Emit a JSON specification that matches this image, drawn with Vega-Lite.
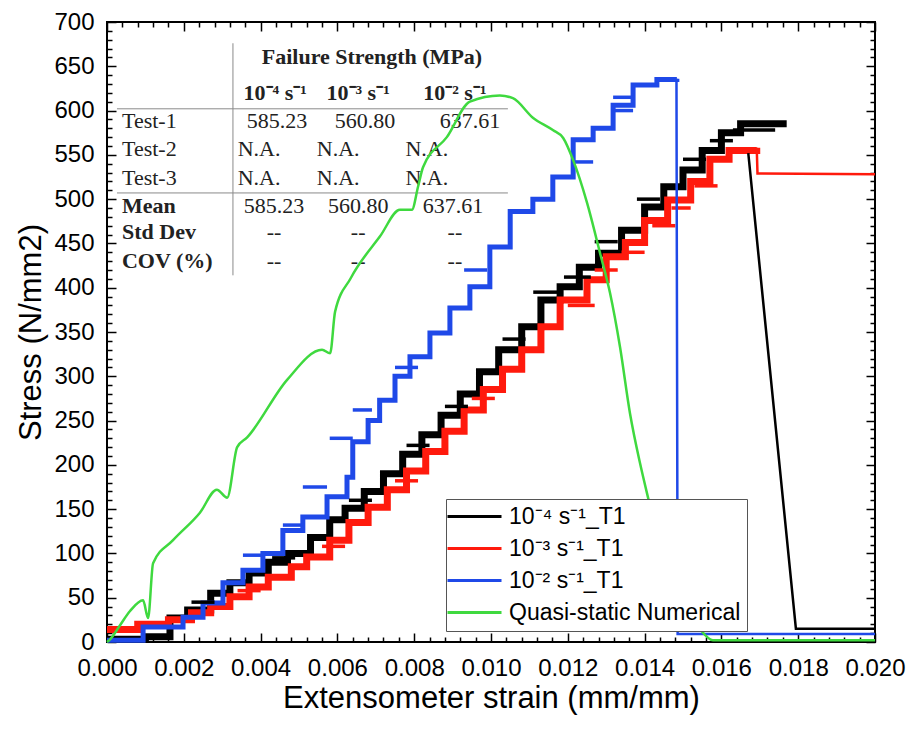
{
  "$schema": "https://vega.github.io/schema/vega-lite/v6.json",
  "width": 768,
  "height": 620,
  "autosize": {"type": "none"},
  "padding": {"left": 107, "top": 22, "right": 37, "bottom": 88},
  "background": "white",
  "datasets": {
    "steps": [
      {"series": "10⁻⁴ s⁻¹_T1", "strain": 0, "stress": 3},
      {"series": "10⁻⁴ s⁻¹_T1", "strain": 0.001, "stress": 6},
      {"series": "10⁻⁴ s⁻¹_T1", "strain": 0.00164, "stress": 27},
      {"series": "10⁻⁴ s⁻¹_T1", "strain": 0.0021, "stress": 36},
      {"series": "10⁻⁴ s⁻¹_T1", "strain": 0.0027, "stress": 55},
      {"series": "10⁻⁴ s⁻¹_T1", "strain": 0.0032, "stress": 67},
      {"series": "10⁻⁴ s⁻¹_T1", "strain": 0.0037, "stress": 78},
      {"series": "10⁻⁴ s⁻¹_T1", "strain": 0.0042, "stress": 90},
      {"series": "10⁻⁴ s⁻¹_T1", "strain": 0.0047, "stress": 100},
      {"series": "10⁻⁴ s⁻¹_T1", "strain": 0.0053, "stress": 118},
      {"series": "10⁻⁴ s⁻¹_T1", "strain": 0.0058, "stress": 138},
      {"series": "10⁻⁴ s⁻¹_T1", "strain": 0.0062, "stress": 151},
      {"series": "10⁻⁴ s⁻¹_T1", "strain": 0.0067, "stress": 170},
      {"series": "10⁻⁴ s⁻¹_T1", "strain": 0.0072, "stress": 190},
      {"series": "10⁻⁴ s⁻¹_T1", "strain": 0.0077, "stress": 212},
      {"series": "10⁻⁴ s⁻¹_T1", "strain": 0.0082, "stress": 234},
      {"series": "10⁻⁴ s⁻¹_T1", "strain": 0.0087, "stress": 256},
      {"series": "10⁻⁴ s⁻¹_T1", "strain": 0.0092, "stress": 280},
      {"series": "10⁻⁴ s⁻¹_T1", "strain": 0.0097, "stress": 305},
      {"series": "10⁻⁴ s⁻¹_T1", "strain": 0.0102, "stress": 330},
      {"series": "10⁻⁴ s⁻¹_T1", "strain": 0.0108, "stress": 356},
      {"series": "10⁻⁴ s⁻¹_T1", "strain": 0.0113, "stress": 386},
      {"series": "10⁻⁴ s⁻¹_T1", "strain": 0.0118, "stress": 401},
      {"series": "10⁻⁴ s⁻¹_T1", "strain": 0.0123, "stress": 423},
      {"series": "10⁻⁴ s⁻¹_T1", "strain": 0.0128, "stress": 439},
      {"series": "10⁻⁴ s⁻¹_T1", "strain": 0.0134, "stress": 465},
      {"series": "10⁻⁴ s⁻¹_T1", "strain": 0.014, "stress": 491},
      {"series": "10⁻⁴ s⁻¹_T1", "strain": 0.0145, "stress": 514},
      {"series": "10⁻⁴ s⁻¹_T1", "strain": 0.015, "stress": 533},
      {"series": "10⁻⁴ s⁻¹_T1", "strain": 0.0155, "stress": 555},
      {"series": "10⁻⁴ s⁻¹_T1", "strain": 0.016, "stress": 575},
      {"series": "10⁻⁴ s⁻¹_T1", "strain": 0.0165, "stress": 585},
      {"series": "10⁻⁴ s⁻¹_T1", "strain": 0.0177, "stress": 585},
      {"series": "10⁻³ s⁻¹_T1", "strain": 0, "stress": 14},
      {"series": "10⁻³ s⁻¹_T1", "strain": 0.0008, "stress": 20},
      {"series": "10⁻³ s⁻¹_T1", "strain": 0.0016, "stress": 25},
      {"series": "10⁻³ s⁻¹_T1", "strain": 0.0022, "stress": 33},
      {"series": "10⁻³ s⁻¹_T1", "strain": 0.0027, "stress": 40},
      {"series": "10⁻³ s⁻¹_T1", "strain": 0.0032, "stress": 51},
      {"series": "10⁻³ s⁻¹_T1", "strain": 0.0037, "stress": 62},
      {"series": "10⁻³ s⁻¹_T1", "strain": 0.0042, "stress": 73},
      {"series": "10⁻³ s⁻¹_T1", "strain": 0.0048, "stress": 85},
      {"series": "10⁻³ s⁻¹_T1", "strain": 0.0052, "stress": 96},
      {"series": "10⁻³ s⁻¹_T1", "strain": 0.0058, "stress": 115},
      {"series": "10⁻³ s⁻¹_T1", "strain": 0.0063, "stress": 135},
      {"series": "10⁻³ s⁻¹_T1", "strain": 0.0068, "stress": 152},
      {"series": "10⁻³ s⁻¹_T1", "strain": 0.0073, "stress": 172},
      {"series": "10⁻³ s⁻¹_T1", "strain": 0.0078, "stress": 193},
      {"series": "10⁻³ s⁻¹_T1", "strain": 0.0083, "stress": 215},
      {"series": "10⁻³ s⁻¹_T1", "strain": 0.0088, "stress": 238},
      {"series": "10⁻³ s⁻¹_T1", "strain": 0.0093, "stress": 262},
      {"series": "10⁻³ s⁻¹_T1", "strain": 0.0098, "stress": 285},
      {"series": "10⁻³ s⁻¹_T1", "strain": 0.0103, "stress": 308},
      {"series": "10⁻³ s⁻¹_T1", "strain": 0.0108, "stress": 330},
      {"series": "10⁻³ s⁻¹_T1", "strain": 0.0113, "stress": 356},
      {"series": "10⁻³ s⁻¹_T1", "strain": 0.0118, "stress": 386},
      {"series": "10⁻³ s⁻¹_T1", "strain": 0.0125, "stress": 409},
      {"series": "10⁻³ s⁻¹_T1", "strain": 0.013, "stress": 435},
      {"series": "10⁻³ s⁻¹_T1", "strain": 0.0135, "stress": 451},
      {"series": "10⁻³ s⁻¹_T1", "strain": 0.014, "stress": 476},
      {"series": "10⁻³ s⁻¹_T1", "strain": 0.0146, "stress": 499},
      {"series": "10⁻³ s⁻¹_T1", "strain": 0.0152, "stress": 520},
      {"series": "10⁻³ s⁻¹_T1", "strain": 0.0157, "stress": 545},
      {"series": "10⁻³ s⁻¹_T1", "strain": 0.0162, "stress": 555},
      {"series": "10⁻³ s⁻¹_T1", "strain": 0.01692, "stress": 558}
    ],
    "blueSteps": [
      {"series": "10⁻² s⁻¹_T1", "strain": 0, "stress": 2},
      {"series": "10⁻² s⁻¹_T1", "strain": 0.00094, "stress": 17},
      {"series": "10⁻² s⁻¹_T1", "strain": 0.00198, "stress": 28},
      {"series": "10⁻² s⁻¹_T1", "strain": 0.0025, "stress": 44},
      {"series": "10⁻² s⁻¹_T1", "strain": 0.00302, "stress": 67},
      {"series": "10⁻² s⁻¹_T1", "strain": 0.00354, "stress": 81},
      {"series": "10⁻² s⁻¹_T1", "strain": 0.00406, "stress": 100},
      {"series": "10⁻² s⁻¹_T1", "strain": 0.00458, "stress": 126},
      {"series": "10⁻² s⁻¹_T1", "strain": 0.0051, "stress": 141},
      {"series": "10⁻² s⁻¹_T1", "strain": 0.00573, "stress": 164},
      {"series": "10⁻² s⁻¹_T1", "strain": 0.00625, "stress": 186},
      {"series": "10⁻² s⁻¹_T1", "strain": 0.0064, "stress": 226},
      {"series": "10⁻² s⁻¹_T1", "strain": 0.0068, "stress": 250},
      {"series": "10⁻² s⁻¹_T1", "strain": 0.0071, "stress": 273},
      {"series": "10⁻² s⁻¹_T1", "strain": 0.0075, "stress": 300},
      {"series": "10⁻² s⁻¹_T1", "strain": 0.00789, "stress": 322},
      {"series": "10⁻² s⁻¹_T1", "strain": 0.00841, "stress": 349},
      {"series": "10⁻² s⁻¹_T1", "strain": 0.00893, "stress": 377},
      {"series": "10⁻² s⁻¹_T1", "strain": 0.00945, "stress": 401},
      {"series": "10⁻² s⁻¹_T1", "strain": 0.00997, "stress": 446},
      {"series": "10⁻² s⁻¹_T1", "strain": 0.0105, "stress": 486},
      {"series": "10⁻² s⁻¹_T1", "strain": 0.01109, "stress": 500},
      {"series": "10⁻² s⁻¹_T1", "strain": 0.01161, "stress": 525},
      {"series": "10⁻² s⁻¹_T1", "strain": 0.01214, "stress": 567},
      {"series": "10⁻² s⁻¹_T1", "strain": 0.01266, "stress": 580},
      {"series": "10⁻² s⁻¹_T1", "strain": 0.01318, "stress": 606},
      {"series": "10⁻² s⁻¹_T1", "strain": 0.0137, "stress": 629},
      {"series": "10⁻² s⁻¹_T1", "strain": 0.01432, "stress": 635},
      {"series": "10⁻² s⁻¹_T1", "strain": 0.01484, "stress": 636}
    ],
    "spikes": [
      {"series": "10⁻⁴ s⁻¹_T1", "strain": 0.0022, "strain2": 0.0028, "stress": 45},
      {"series": "10⁻⁴ s⁻¹_T1", "strain": 0.0043, "strain2": 0.0049, "stress": 95},
      {"series": "10⁻⁴ s⁻¹_T1", "strain": 0.0063, "strain2": 0.0069, "stress": 160},
      {"series": "10⁻⁴ s⁻¹_T1", "strain": 0.0078, "strain2": 0.0084, "stress": 222},
      {"series": "10⁻⁴ s⁻¹_T1", "strain": 0.0088, "strain2": 0.0094, "stress": 266},
      {"series": "10⁻⁴ s⁻¹_T1", "strain": 0.0103, "strain2": 0.0109, "stress": 342},
      {"series": "10⁻⁴ s⁻¹_T1", "strain": 0.0111, "strain2": 0.0118, "stress": 395},
      {"series": "10⁻⁴ s⁻¹_T1", "strain": 0.0119, "strain2": 0.0126, "stress": 412},
      {"series": "10⁻⁴ s⁻¹_T1", "strain": 0.0127, "strain2": 0.0133, "stress": 452},
      {"series": "10⁻⁴ s⁻¹_T1", "strain": 0.0138, "strain2": 0.0144, "stress": 500},
      {"series": "10⁻⁴ s⁻¹_T1", "strain": 0.015, "strain2": 0.0156, "stress": 545},
      {"series": "10⁻⁴ s⁻¹_T1", "strain": 0.0157, "strain2": 0.0163, "stress": 566},
      {"series": "10⁻⁴ s⁻¹_T1", "strain": 0.0163, "strain2": 0.0174, "stress": 578},
      {"series": "10⁻³ s⁻¹_T1", "strain": 0.0034, "strain2": 0.004, "stress": 58},
      {"series": "10⁻³ s⁻¹_T1", "strain": 0.0056, "strain2": 0.0062, "stress": 108},
      {"series": "10⁻³ s⁻¹_T1", "strain": 0.0075, "strain2": 0.0081, "stress": 182},
      {"series": "10⁻³ s⁻¹_T1", "strain": 0.0095, "strain2": 0.0101, "stress": 275},
      {"series": "10⁻³ s⁻¹_T1", "strain": 0.012, "strain2": 0.0127, "stress": 380},
      {"series": "10⁻³ s⁻¹_T1", "strain": 0.0127, "strain2": 0.0133, "stress": 420},
      {"series": "10⁻³ s⁻¹_T1", "strain": 0.0134, "strain2": 0.014, "stress": 440},
      {"series": "10⁻³ s⁻¹_T1", "strain": 0.0142, "strain2": 0.0148, "stress": 470},
      {"series": "10⁻³ s⁻¹_T1", "strain": 0.0147, "strain2": 0.0152, "stress": 490},
      {"series": "10⁻³ s⁻¹_T1", "strain": 0.0153, "strain2": 0.0159, "stress": 515},
      {"series": "10⁻² s⁻¹_T1", "strain": 0.00354, "strain2": 0.00406, "stress": 98},
      {"series": "10⁻² s⁻¹_T1", "strain": 0.00458, "strain2": 0.0051, "stress": 132},
      {"series": "10⁻² s⁻¹_T1", "strain": 0.0051, "strain2": 0.00573, "stress": 175},
      {"series": "10⁻² s⁻¹_T1", "strain": 0.0058, "strain2": 0.0064, "stress": 230},
      {"series": "10⁻² s⁻¹_T1", "strain": 0.0064, "strain2": 0.0069, "stress": 262},
      {"series": "10⁻² s⁻¹_T1", "strain": 0.0075, "strain2": 0.0081, "stress": 310},
      {"series": "10⁻² s⁻¹_T1", "strain": 0.0093, "strain2": 0.0099, "stress": 420},
      {"series": "10⁻² s⁻¹_T1", "strain": 0.01214, "strain2": 0.01266, "stress": 542},
      {"series": "10⁻² s⁻¹_T1", "strain": 0.01318, "strain2": 0.0137, "stress": 600},
      {"series": "10⁻² s⁻¹_T1", "strain": 0.01318, "strain2": 0.0137, "stress": 615}
    ],
    "tails": [
      {"series": "10⁻⁴ s⁻¹_T1", "strain": 0.0167, "stress": 552},
      {"series": "10⁻⁴ s⁻¹_T1", "strain": 0.01794, "stress": 15},
      {"series": "10⁻⁴ s⁻¹_T1", "strain": 0.02, "stress": 15},
      {"series": "10⁻³ s⁻¹_T1", "strain": 0.01692, "stress": 558},
      {"series": "10⁻³ s⁻¹_T1", "strain": 0.01694, "stress": 529},
      {"series": "10⁻³ s⁻¹_T1", "strain": 0.02, "stress": 528},
      {"series": "10⁻² s⁻¹_T1", "strain": 0.01483, "stress": 636},
      {"series": "10⁻² s⁻¹_T1", "strain": 0.01486, "stress": 9},
      {"series": "10⁻² s⁻¹_T1", "strain": 0.02, "stress": 9}
    ],
    "model": [
      {"series": "Quasi-static Numerical", "strain": 0, "stress": 0},
      {"series": "Quasi-static Numerical", "strain": 0.00008, "stress": 3},
      {"series": "Quasi-static Numerical", "strain": 0.00034, "stress": 19},
      {"series": "Quasi-static Numerical", "strain": 0.0006, "stress": 35},
      {"series": "Quasi-static Numerical", "strain": 0.00094, "stress": 47},
      {"series": "Quasi-static Numerical", "strain": 0.00107, "stress": 27},
      {"series": "Quasi-static Numerical", "strain": 0.0012, "stress": 89},
      {"series": "Quasi-static Numerical", "strain": 0.00172, "stress": 115},
      {"series": "Quasi-static Numerical", "strain": 0.00242, "stress": 146},
      {"series": "Quasi-static Numerical", "strain": 0.00286, "stress": 172},
      {"series": "Quasi-static Numerical", "strain": 0.00313, "stress": 163},
      {"series": "Quasi-static Numerical", "strain": 0.00339, "stress": 220},
      {"series": "Quasi-static Numerical", "strain": 0.00365, "stress": 231},
      {"series": "Quasi-static Numerical", "strain": 0.00469, "stress": 296},
      {"series": "Quasi-static Numerical", "strain": 0.0056, "stress": 330},
      {"series": "Quasi-static Numerical", "strain": 0.00581, "stress": 326},
      {"series": "Quasi-static Numerical", "strain": 0.00594, "stress": 373},
      {"series": "Quasi-static Numerical", "strain": 0.00635, "stress": 411},
      {"series": "Quasi-static Numerical", "strain": 0.00711, "stress": 458},
      {"series": "Quasi-static Numerical", "strain": 0.00763, "stress": 488},
      {"series": "Quasi-static Numerical", "strain": 0.00794, "stress": 488},
      {"series": "Quasi-static Numerical", "strain": 0.0081, "stress": 514},
      {"series": "Quasi-static Numerical", "strain": 0.00823, "stress": 536},
      {"series": "Quasi-static Numerical", "strain": 0.00885, "stress": 570},
      {"series": "Quasi-static Numerical", "strain": 0.00945, "stress": 610},
      {"series": "Quasi-static Numerical", "strain": 0.01023, "stress": 617},
      {"series": "Quasi-static Numerical", "strain": 0.01057, "stress": 614},
      {"series": "Quasi-static Numerical", "strain": 0.01109, "stress": 592},
      {"series": "Quasi-static Numerical", "strain": 0.01161, "stress": 578},
      {"series": "Quasi-static Numerical", "strain": 0.01188, "stress": 569},
      {"series": "Quasi-static Numerical", "strain": 0.01214, "stress": 544},
      {"series": "Quasi-static Numerical", "strain": 0.0125, "stress": 496},
      {"series": "Quasi-static Numerical", "strain": 0.01284, "stress": 439},
      {"series": "Quasi-static Numerical", "strain": 0.0131, "stress": 394},
      {"series": "Quasi-static Numerical", "strain": 0.01336, "stress": 333},
      {"series": "Quasi-static Numerical", "strain": 0.01362, "stress": 258},
      {"series": "Quasi-static Numerical", "strain": 0.01388, "stress": 202},
      {"series": "Quasi-static Numerical", "strain": 0.01409, "stress": 163},
      {"series": "Quasi-static Numerical", "strain": 0.01453, "stress": 87},
      {"series": "Quasi-static Numerical", "strain": 0.01492, "stress": 42},
      {"series": "Quasi-static Numerical", "strain": 0.01539, "stress": 17},
      {"series": "Quasi-static Numerical", "strain": 0.01578, "stress": 2},
      {"series": "Quasi-static Numerical", "strain": 0.02, "stress": 2}
    ],
    "tableText": [
      {"role": "bold", "align": "center", "text": "Failure Strength (MPa)", "strain": 0.0069, "stress": 660},
      {"role": "bold", "align": "center", "text": "10⁻⁴ s⁻¹", "strain": 0.00438, "stress": 620},
      {"role": "bold", "align": "center", "text": "10⁻³ s⁻¹", "strain": 0.00654, "stress": 620},
      {"role": "bold", "align": "center", "text": "10⁻² s⁻¹", "strain": 0.00906, "stress": 620},
      {"role": "plain", "align": "left", "text": "Test-1", "strain": 0.00039, "stress": 588},
      {"role": "plain", "align": "left", "text": "Test-2", "strain": 0.00039, "stress": 557},
      {"role": "plain", "align": "left", "text": "Test-3", "strain": 0.00039, "stress": 524},
      {"role": "bold", "align": "left", "text": "Mean", "strain": 0.00039, "stress": 492},
      {"role": "bold", "align": "left", "text": "Std Dev", "strain": 0.00039, "stress": 463},
      {"role": "bold", "align": "left", "text": "COV (%)", "strain": 0.00039, "stress": 430},
      {"role": "plain", "align": "center", "text": "585.23", "strain": 0.00443, "stress": 588},
      {"role": "plain", "align": "center", "text": "560.80", "strain": 0.00672, "stress": 588},
      {"role": "plain", "align": "center", "text": "637.61", "strain": 0.00945, "stress": 588},
      {"role": "plain", "align": "center", "text": "N.A.", "strain": 0.00396, "stress": 557},
      {"role": "plain", "align": "center", "text": "N.A.", "strain": 0.00602, "stress": 557},
      {"role": "plain", "align": "center", "text": "N.A.", "strain": 0.00833, "stress": 557},
      {"role": "plain", "align": "center", "text": "N.A.", "strain": 0.00396, "stress": 524},
      {"role": "plain", "align": "center", "text": "N.A.", "strain": 0.00602, "stress": 524},
      {"role": "plain", "align": "center", "text": "N.A.", "strain": 0.00833, "stress": 524},
      {"role": "plain", "align": "center", "text": "585.23", "strain": 0.00435, "stress": 492},
      {"role": "plain", "align": "center", "text": "560.80", "strain": 0.00654, "stress": 492},
      {"role": "plain", "align": "center", "text": "637.61", "strain": 0.00901, "stress": 492},
      {"role": "plain", "align": "center", "text": "--", "strain": 0.00435, "stress": 463},
      {"role": "plain", "align": "center", "text": "--", "strain": 0.00654, "stress": 463},
      {"role": "plain", "align": "center", "text": "--", "strain": 0.00906, "stress": 463},
      {"role": "plain", "align": "center", "text": "--", "strain": 0.00435, "stress": 430},
      {"role": "plain", "align": "center", "text": "--", "strain": 0.00654, "stress": 430},
      {"role": "plain", "align": "center", "text": "--", "strain": 0.00906, "stress": 430}
    ],
    "tableLines": [
      {"strain": 0.00328, "strain2": 0.00328, "stress": 414, "stress2": 676},
      {"strain": 0.00026, "strain2": 0.01044, "stress": 602, "stress2": 602},
      {"strain": 0.00026, "strain2": 0.01044, "stress": 507, "stress2": 507}
    ]
  },
  "resolve": {"scale": {"x": "shared", "y": "shared", "color": "shared"}, "axis": {"x": "independent", "y": "independent"}},
  "layer": [
    {
      "data": {"name": "tableLines"},
      "mark": {"type": "rule", "color": "#8a8a8a", "strokeWidth": 1},
      "encoding": {
        "x": {"field": "strain", "type": "quantitative", "scale": {"domain": [0, 0.02], "nice": false, "zero": false},
              "axis": {"orient": "top", "values": [0.0004,0.0008,0.0012,0.0016,0.0024,0.0028,0.0032,0.0036,0.0044,0.0048,0.0052,0.0056,0.0064,0.0068,0.0072,0.0076,0.0084,0.0088,0.0092,0.0096,0.0104,0.0108,0.0112,0.0116,0.0124,0.0128,0.0132,0.0136,0.0144,0.0148,0.0152,0.0156,0.0164,0.0168,0.0172,0.0176,0.0184,0.0188,0.0192,0.0196], "tickSize": -5, "labels": false, "title": null}},
        "x2": {"field": "strain2"},
        "y": {"field": "stress", "type": "quantitative", "scale": {"domain": [0, 700], "nice": false, "zero": false},
              "axis": {"orient": "right", "values": [10,20,30,40,60,70,80,90,110,120,130,140,160,170,180,190,210,220,230,240,260,270,280,290,310,320,330,340,360,370,380,390,410,420,430,440,460,470,480,490,510,520,530,540,560,570,580,590,610,620,630,640,660,670,680,690], "tickSize": -5, "labels": false, "title": null}},
        "y2": {"field": "stress2"}
      }
    },
    {
      "data": {"name": "tableText"},
      "transform": [{"filter": "datum.role === 'plain' && datum.align === 'center'"}],
      "mark": {"type": "text", "font": "Liberation Serif", "fontSize": 22, "color": "#222", "align": "center", "baseline": "middle"},
      "encoding": {
        "x": {"field": "strain", "type": "quantitative", "scale": {"domain": [0, 0.02], "nice": false, "zero": false}, "axis": null},
        "y": {"field": "stress", "type": "quantitative", "scale": {"domain": [0, 700], "nice": false, "zero": false}, "axis": null},
        "text": {"field": "text"}
      }
    },
    {
      "data": {"name": "tableText"},
      "transform": [{"filter": "datum.role === 'plain' && datum.align === 'left'"}],
      "mark": {"type": "text", "font": "Liberation Serif", "fontSize": 22, "color": "#222", "align": "left", "baseline": "middle"},
      "encoding": {
        "x": {"field": "strain", "type": "quantitative", "scale": {"domain": [0, 0.02], "nice": false, "zero": false}, "axis": null},
        "y": {"field": "stress", "type": "quantitative", "scale": {"domain": [0, 700], "nice": false, "zero": false}, "axis": null},
        "text": {"field": "text"}
      }
    },
    {
      "data": {"name": "tableText"},
      "transform": [{"filter": "datum.role === 'bold' && datum.align === 'center'"}],
      "mark": {"type": "text", "font": "Liberation Serif", "fontSize": 22, "fontWeight": "bold", "color": "#222", "align": "center", "baseline": "middle"},
      "encoding": {
        "x": {"field": "strain", "type": "quantitative", "scale": {"domain": [0, 0.02], "nice": false, "zero": false}, "axis": null},
        "y": {"field": "stress", "type": "quantitative", "scale": {"domain": [0, 700], "nice": false, "zero": false}, "axis": null},
        "text": {"field": "text"}
      }
    },
    {
      "data": {"name": "tableText"},
      "transform": [{"filter": "datum.role === 'bold' && datum.align === 'left'"}],
      "mark": {"type": "text", "font": "Liberation Serif", "fontSize": 22, "fontWeight": "bold", "color": "#222", "align": "left", "baseline": "middle"},
      "encoding": {
        "x": {"field": "strain", "type": "quantitative", "scale": {"domain": [0, 0.02], "nice": false, "zero": false}, "axis": null},
        "y": {"field": "stress", "type": "quantitative", "scale": {"domain": [0, 700], "nice": false, "zero": false}, "axis": null},
        "text": {"field": "text"}
      }
    },
    {
      "data": {"name": "steps"},
      "mark": {"type": "line", "interpolate": "step-after", "strokeWidth": 7},
      "encoding": {
        "x": {"field": "strain", "type": "quantitative", "scale": {"domain": [0, 0.02], "nice": false, "zero": false},
              "axis": {"orient": "bottom", "values": [0,0.002,0.004,0.006,0.008,0.01,0.012,0.014,0.016,0.018,0.02], "format": ".3f", "labelFlush": false, "labelOverlap": false, "tickSize": -9, "labelPadding": 23, "title": "Extensometer strain (mm/mm)", "titlePadding": 3}},
        "y": {"field": "stress", "type": "quantitative", "scale": {"domain": [0, 700], "nice": false, "zero": false},
              "axis": {"orient": "left", "values": [0,50,100,150,200,250,300,350,400,450,500,550,600,650,700], "labelFlush": false, "labelOverlap": false, "tickSize": -9, "labelPadding": 22, "title": "Stress (N/mm2)", "titlePadding": 6}},
        "color": {"field": "series", "type": "nominal",
                  "scale": {"domain": ["10⁻⁴ s⁻¹_T1", "10⁻³ s⁻¹_T1", "10⁻² s⁻¹_T1", "Quasi-static Numerical"], "range": ["#000000", "#ff1a0d", "#1f49e8", "#3fd93f"]},
                  "legend": {"orient": "none", "legendX": 339, "legendY": 477, "title": null, "symbolType": "M-3,0H3", "symbolSize": 324, "symbolStrokeWidth": 3, "labelFont": "Liberation Sans", "labelFontSize": 23, "labelLimit": 400, "labelColor": "#000", "strokeColor": "#555", "fillColor": "#ffffff", "padding": 6, "rowPadding": 8, "labelOffset": 23, "symbolOffset": 11}}
      }
    },
    {
      "data": {"name": "blueSteps"},
      "mark": {"type": "line", "interpolate": "step-after", "strokeWidth": 5},
      "encoding": {
        "x": {"field": "strain", "type": "quantitative", "scale": {"domain": [0, 0.02], "nice": false, "zero": false},
              "axis": {"orient": "bottom", "values": [0.0004,0.0008,0.0012,0.0016,0.0024,0.0028,0.0032,0.0036,0.0044,0.0048,0.0052,0.0056,0.0064,0.0068,0.0072,0.0076,0.0084,0.0088,0.0092,0.0096,0.0104,0.0108,0.0112,0.0116,0.0124,0.0128,0.0132,0.0136,0.0144,0.0148,0.0152,0.0156,0.0164,0.0168,0.0172,0.0176,0.0184,0.0188,0.0192,0.0196], "tickSize": -5, "labels": false, "title": null}},
        "y": {"field": "stress", "type": "quantitative", "scale": {"domain": [0, 700], "nice": false, "zero": false},
              "axis": {"orient": "left", "values": [10,20,30,40,60,70,80,90,110,120,130,140,160,170,180,190,210,220,230,240,260,270,280,290,310,320,330,340,360,370,380,390,410,420,430,440,460,470,480,490,510,520,530,540,560,570,580,590,610,620,630,640,660,670,680,690], "tickSize": -5, "labels": false, "title": null}},
        "color": {"field": "series", "type": "nominal"}
      }
    },
    {
      "data": {"name": "spikes"},
      "mark": {"type": "rule", "strokeWidth": 3.5},
      "encoding": {
        "x": {"field": "strain", "type": "quantitative", "scale": {"domain": [0, 0.02], "nice": false, "zero": false}, "axis": null},
        "x2": {"field": "strain2"},
        "y": {"field": "stress", "type": "quantitative", "scale": {"domain": [0, 700], "nice": false, "zero": false}, "axis": null},
        "color": {"field": "series", "type": "nominal"}
      }
    },
    {
      "data": {"name": "tails"},
      "mark": {"type": "line", "strokeWidth": 2.5},
      "encoding": {
        "x": {"field": "strain", "type": "quantitative", "scale": {"domain": [0, 0.02], "nice": false, "zero": false},
              "axis": {"orient": "top", "values": [0,0.002,0.004,0.006,0.008,0.01,0.012,0.014,0.016,0.018,0.02], "tickSize": -9, "labels": false, "title": null}},
        "y": {"field": "stress", "type": "quantitative", "scale": {"domain": [0, 700], "nice": false, "zero": false},
              "axis": {"orient": "right", "values": [0,50,100,150,200,250,300,350,400,450,500,550,600,650,700], "tickSize": -9, "labels": false, "title": null}},
        "color": {"field": "series", "type": "nominal"}
      }
    },
    {
      "data": {"name": "model"},
      "mark": {"type": "line", "interpolate": "monotone", "strokeWidth": 2.5},
      "encoding": {
        "x": {"field": "strain", "type": "quantitative", "scale": {"domain": [0, 0.02], "nice": false, "zero": false}, "axis": null},
        "y": {"field": "stress", "type": "quantitative", "scale": {"domain": [0, 700], "nice": false, "zero": false}, "axis": null},
        "color": {"field": "series", "type": "nominal"}
      }
    }
  ],
  "config": {
    "view": {"stroke": "#000000", "strokeWidth": 2},
    "font": "Liberation Sans",
    "axis": {"domain": false, "grid": false, "labelFont": "Liberation Sans", "labelFontSize": 24, "labelColor": "#000", "titleFont": "Liberation Sans", "titleFontSize": 31, "titleFontWeight": "normal", "titleColor": "#000", "tickColor": "#000", "tickWidth": 1.5}
  }
}
